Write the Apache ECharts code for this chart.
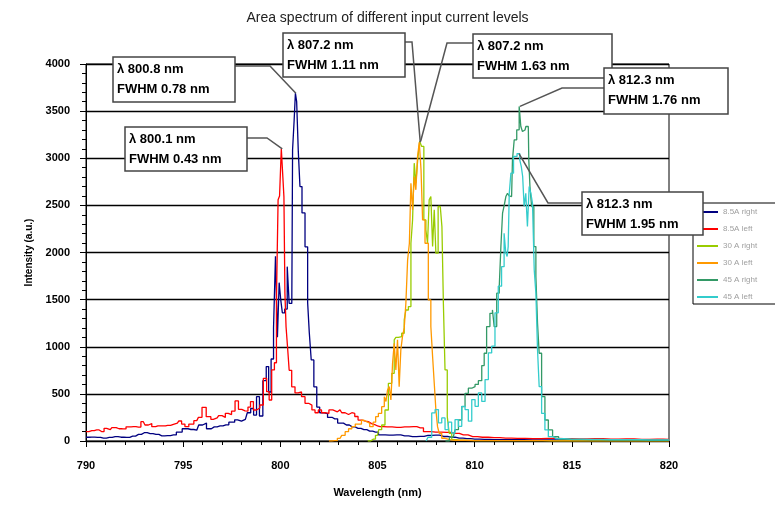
<!DOCTYPE html>
<html>
<head>
<meta charset="utf-8">
<script src="https://cdn.jsdelivr.net/npm/echarts@6/dist/echarts.min.js"></script>
<style>
html, body { margin: 0; padding: 0; background: #fff; }
#chart { width: 775px; height: 508px; }
</style>
</head>
<body>
<div id="chart"></div>
<script>
// ---- Spectra: wavelength (nm) and intensity (a.u.) for each current level ----
const wl85R = [790.0,790.3,790.6,790.9,791.2,791.5,791.8,792.1,792.4,792.7,793.0,793.3,793.6,793.9,794.2,794.5,794.8,795.1,795.4,795.7,795.9,796.1,796.3,796.6,796.9,797.2,797.5,797.8,798.0,798.2,798.4,798.55,798.7,798.85,799.0,799.2,799.35,799.45,799.6,799.7,799.8,799.9,799.98,800.06,800.15,800.3,800.41,800.5,800.59,800.67,800.75,800.8,800.88,800.97,801.05,801.18,801.36,801.45,801.53,801.65,801.8,801.95,802.1,802.3,802.56,802.8,803.1,803.4,803.7,804.0,804.3,804.6,804.9,805.2,805.6,806.0,806.4,806.8,807.2,807.6,808.0,808.4,808.8,809.2,809.6,810.0,810.5,811,812,813,814,815,816,817,818,819,820];
const int85R = [40,42,39,30,38,46,40,38,52,70,88,78,70,55,58,64,95,130,122,115,170,190,130,150,160,172,200,225,210,230,300,345,275,470,265,640,790,520,870,1200,1960,1100,1680,1500,1360,1400,1850,1460,1460,3090,3400,3690,3600,3070,2700,2420,2060,1470,1150,860,575,360,300,290,250,235,190,170,150,134,120,105,95,64,62,64,55,46,50,60,62,48,40,30,25,20,18,15,14,12,12,10,10,9,10,8,8];

const wl85L = [790.0,790.3,790.55,790.8,791.06,791.25,791.41,791.7,791.92,792.2,792.44,792.7,792.95,793.12,793.3,793.47,793.7,793.98,794.2,794.5,794.7,794.84,795.0,795.18,795.4,795.7,795.87,796.07,796.3,796.55,796.75,796.9,797.1,797.24,797.4,797.58,797.76,797.93,798.1,798.27,798.4,798.53,798.7,798.85,799.04,799.21,799.38,799.47,799.64,799.75,799.85,799.92,800.0,800.1,800.16,800.21,800.26,800.33,800.41,800.5,800.67,800.84,801.0,801.18,801.36,801.55,801.7,801.87,802.04,802.2,802.4,802.6,802.8,803.07,803.25,803.42,803.6,803.76,803.9,804.1,804.3,804.45,804.6,804.79,805.0,805.13,805.5,806.0,806.4,806.85,807.2,807.53,808.0,808.56,809.0,809.42,809.9,810.4,811.0,811.6,812.2,813.0,813.8,814.6,815.4,816.2,817.0,817.8,818.6,819.4,820.0];
const int85L = [99,110,117,100,135,120,142,130,128,150,152,148,205,170,185,152,160,160,165,177,190,212,180,152,180,216,251,357,258,230,245,269,250,294,280,318,425,336,320,318,360,418,329,350,382,665,523,435,754,830,1500,2560,2600,3100,2800,2590,1570,1210,1000,750,575,510,520,470,400,380,330,300,330,300,293,330,310,330,300,281,300,293,260,222,210,205,185,170,160,152,150,145,150,152,140,99,95,92,80,64,46,40,35,30,28,25,28,25,22,24,20,22,18,20,18];

const wl30R = [804.5,804.79,805.0,805.13,805.3,805.47,805.65,805.82,805.9,805.99,806.16,806.33,806.42,806.5,806.68,806.76,806.85,806.93,807.02,807.12,807.22,807.32,807.45,807.53,807.62,807.7,807.79,807.88,807.96,808.05,808.19,808.27,808.36,808.42,808.53,808.65,808.73,808.91,809.2,809.6,810.0,811,812,813,814,815,816,817,818,819,820];
const int30R = [0,20,60,120,170,329,612,718,1073,1100,1108,1143,1285,1390,1426,2098,2346,2948,2735,2984,3180,3125,2346,2240,2098,2559,2594,2063,2452,1993,2488,2488,2275,1461,754,258,82,15,8,6,5,4,3,3,2,2,2,2,2,2,2];

const wl30L = [802.5,802.8,803.07,803.25,803.42,803.6,803.76,803.95,804.1,804.25,804.36,804.5,804.7,804.85,804.96,805.13,805.3,805.4,805.47,805.56,805.65,805.73,805.82,805.9,805.99,806.07,806.16,806.24,806.33,806.42,806.5,806.6,806.68,806.76,806.85,806.93,807.02,807.1,807.2,807.28,807.36,807.53,807.7,807.79,807.88,807.96,808.05,808.13,808.22,808.39,808.56,809.0,810.0,811,812,813,814,815,816,817,818,819,820];
const int30L = [0,5,28,60,99,130,152,180,180,220,205,190,152,200,258,294,364,470,420,540,577,435,825,1037,754,1073,577,966,1108,1200,1461,1922,2098,2735,2452,2806,2665,3019,3170,2877,2346,2098,1497,1214,896,612,329,152,82,29,11,8,5,4,3,3,2,2,2,2,2,2,2];

const wl45R = [808.5,808.9,809.08,809.25,809.42,809.59,809.76,809.94,810.1,810.28,810.45,810.53,810.7,810.87,810.96,811.05,811.22,811.31,811.39,811.48,811.56,811.65,811.73,811.82,811.9,811.99,812.08,812.25,812.33,812.42,812.5,812.59,812.68,812.76,812.81,812.88,812.98,813.11,813.19,813.28,813.36,813.53,813.7,813.88,814.14,814.5,815,816,817,818,819,820];
const int45R = [0,42,120,223,365,506,560,577,600,640,800,931,1214,1355,1391,1214,1568,1640,2063,2417,2500,2594,2629,2600,2594,2983,3196,3302,3550,3337,3284,3300,3337,3337,2983,2700,2488,2063,1745,1250,931,471,223,117,46,20,15,12,10,10,8,8];

const wl45L = [807.5,807.7,807.88,808.05,808.22,808.39,808.56,808.73,808.9,809.08,809.25,809.42,809.59,809.76,809.94,810.1,810.28,810.45,810.62,810.79,810.96,811.13,811.3,811.47,811.56,811.64,811.7,811.75,811.81,811.92,812.08,812.28,812.36,812.44,812.5,812.59,812.67,812.76,812.85,812.93,813.02,813.11,813.19,813.28,813.36,813.53,813.7,813.88,814.2,815,816,817,818,819,820];
const int45L = [0,40,298,333,192,245,121,200,85,227,156,368,333,210,439,368,510,420,652,935,1006,1360,1643,1850,2204,2000,1957,2063,2629,2842,3019,3050,2983,2912,2806,2488,2629,2275,2700,2629,2523,1815,1568,966,577,293,117,46,25,20,18,15,14,12,12];

const seriesNames = ['8.5A right', '8.5A left', '30 A right', '30 A left', '45 A right', '45 A left'];
const seriesColors = ['#000080', '#ff0000', '#99cc00', '#ff9900', '#339966', '#33cccc'];
const seriesWl = [wl85R, wl85L, wl30R, wl30L, wl45R, wl45L];
const seriesInt = [int85R, int85L, int30R, int30L, int45R, int45L];

// Axis ticks
const xTicks = [790, 795, 800, 805, 810, 815, 820];
const yTicks = [0, 500, 1000, 1500, 2000, 2500, 3000, 3500, 4000];

// Peak callouts: which series, stated FWHM (nm)
const calloutSeries = [0, 1, 3, 2, 4, 5];
const calloutFwhm = [0.78, 0.43, 1.11, 1.63, 1.76, 1.95];

const FONT = '"Liberation Sans", Arial, sans-serif';

const chart = echarts.init(document.getElementById('chart'), null, { renderer: 'canvas' });

const series = seriesNames.map((name, i) => ({
  name: name,
  type: 'line',
  step: 'middle',
  symbol: 'none',
  animation: false,
  lineStyle: { color: seriesColors[i], width: 1.3 },
  itemStyle: { color: seriesColors[i] },
  data: seriesWl[i].map((w, k) => [w, seriesInt[i][k]])
}));

const option = {
  animation: false,
  backgroundColor: '#fff',
  title: {
    text: 'Area spectrum of different input current levels',
    left: 'center',
    top: 6,
    textStyle: { fontFamily: FONT, fontSize: 14, fontWeight: 'normal', color: '#222' }
  },
  grid: {
    left: 86, right: 106, top: 64, bottom: 67,
    show: true, borderColor: '#000', borderWidth: 1, backgroundColor: 'transparent'
  },
  legend: {
    orient: 'vertical',
    left: 693, top: 203,
    padding: [4, 0, 0, 4],
    icon: 'rect',
    itemWidth: 21, itemHeight: 2, itemGap: 7,
    textStyle: { fontFamily: FONT, fontSize: 8, color: '#a0a0a0', lineHeight: 10, height: 10 },
    data: seriesNames
  },
  xAxis: {
    type: 'value',
    min: xTicks[0], max: xTicks[xTicks.length - 1], interval: 5,
    name: 'Wavelength (nm)',
    nameLocation: 'middle', nameGap: 46,
    nameTextStyle: { fontFamily: FONT, fontSize: 11, fontWeight: 'bold', color: '#000' },
    axisLine: { lineStyle: { color: '#000', width: 1 } },
    axisTick: { show: true, length: 6, lineStyle: { color: '#000' } },
    minorTick: { show: true, splitNumber: 5, length: 4, lineStyle: { color: '#000' } },
    axisLabel: { fontFamily: FONT, fontSize: 11, fontWeight: 'bold', color: '#000', margin: 19,
                 formatter: v => String(v) },
    splitLine: { show: false }
  },
  yAxis: {
    type: 'value',
    min: yTicks[0], max: yTicks[yTicks.length - 1], interval: 500,
    name: 'Intensity (a.u.)',
    nameLocation: 'middle', nameGap: 52,
    nameTextStyle: { fontFamily: FONT, fontSize: 10, fontWeight: 'bold', color: '#000' },
    axisLine: { show: true, lineStyle: { color: '#000', width: 1 } },
    axisTick: { show: true, length: 6, lineStyle: { color: '#000' } },
    minorTick: { show: true, splitNumber: 5, length: 4, lineStyle: { color: '#000' } },
    axisLabel: { fontFamily: FONT, fontSize: 11, fontWeight: 'bold', color: '#000', margin: 16,
                 formatter: v => String(v) },
    splitLine: { show: true, lineStyle: { color: '#000', width: 1.3 } }
  },
  series: series
};

chart.setOption(option);

// Callout boxes: [left, top, width, height] and the elbow of each leader line
const calloutBoxes = [
  [113, 57, 122, 45],
  [125, 127, 122, 44],
  [283, 33, 122, 44],
  [473, 34, 139, 44],
  [604, 68, 124, 46],
  [582, 192, 121, 43]
];
const calloutStart = [[235, 66], [247, 138], [405, 42], [473, 43], [604, 88], [582, 203]];
const calloutElbow = [[270, 66], [267, 138], [412, 42], [447, 43], [562, 88], [548, 203]];

function peakOf(i) {
  const ints = seriesInt[i];
  let k = 0;
  for (let j = 1; j < ints.length; j++) if (ints[j] > ints[k]) k = j;
  return [seriesWl[i][k], ints[k]];
}

const graphics = [];
// legend frame, running off the right edge
graphics.push({
  type: 'rect', z: 1, silent: true,
  shape: { x: 693, y: 203, width: 120, height: 101 },
  style: { fill: null, stroke: '#000', lineWidth: 1 }
});

calloutSeries.forEach((si, n) => {
  const peak = peakOf(si);
  const p = chart.convertToPixel({ gridIndex: 0 }, peak);
  const b = calloutBoxes[n];
  graphics.push({
    type: 'polyline', z: 20, silent: true,
    shape: { points: [calloutStart[n], calloutElbow[n], p] },
    style: { stroke: '#555', lineWidth: 1.5, fill: null }
  });
  graphics.push({
    type: 'rect', z: 21, silent: true,
    shape: { x: b[0], y: b[1], width: b[2], height: b[3] },
    style: { fill: '#fff', stroke: '#444', lineWidth: 1.5 }
  });
  graphics.push({
    type: 'text', z: 22, silent: true,
    style: {
      x: b[0] + 4, y: b[1] + 12, text: 'λ ' + peak[0].toFixed(1) + ' nm',
      font: 'bold 13px ' + FONT, fill: '#000', verticalAlign: 'middle'
    }
  });
  graphics.push({
    type: 'text', z: 22, silent: true,
    style: {
      x: b[0] + 4, y: b[1] + 32, text: 'FWHM ' + calloutFwhm[n].toFixed(2) + ' nm',
      font: 'bold 13px ' + FONT, fill: '#000', verticalAlign: 'middle'
    }
  });
});

chart.setOption({ graphic: graphics });
</script>
</body>
</html>
